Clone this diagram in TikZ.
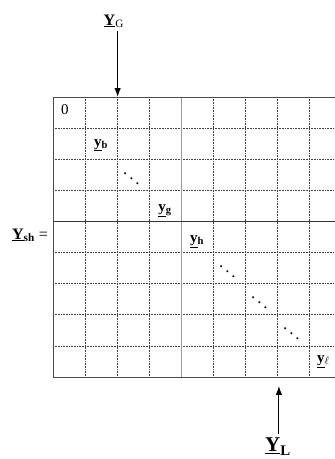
\documentclass[tikz,border=0pt]{standalone}
\usepackage{fontspec}
\setmainfont{Liberation Serif}
\usetikzlibrary{arrows.meta}

\begin{document}
\begin{tikzpicture}[>={Latex[length=9pt,width=6.5pt]}, x=32pt, y=31.1pt,
    cellgrid/.style={densely dotted, line width=0.6pt, black!75},
    border/.style={line width=0.8pt, black!70},
    cell/.style={font=\fontsize{15}{17}\selectfont, inner sep=0pt},
    dots/.style={scale=1.7, inner sep=0pt}]
  \useasboundingbox (-53pt,97pt) rectangle (282pt,-362pt);

  % dotted cell lines
  \foreach \i in {1,2,3,5,6,7,8} {
    \draw[cellgrid] (\i,0) -- (\i,-9);
    \draw[cellgrid] (0,-\i) -- (8.8125,-\i);
  }
  % block borders
  \draw[line width=0.9pt, black!40] (4,0) -- (4,-9);
  \draw[line width=1pt, black!80] (0,-4) -- (8.8125,-4);
  \draw[border] (8.8125,0) -- (0,0) -- (0,-9) -- (8.8125,-9);

  \coordinate (gtop) at (2.02,0);
  \coordinate (gbot) at (7.06,-9);

  % diagonal entries
  \node[cell] (zero) at (0.375,-0.42) {0};
  \node[cell] (yb) at (1.5,-1.55) {\underline{\textbf{y}}\textsubscript{\textbf{b}}};
  \node[dots] (dd1) at (2.45,-2.45) {$\ddots$};
  \node[cell] (yg) at (3.5,-3.65) {\underline{\textbf{y}}\textsubscript{\textbf{g}}};
  \node[cell] (yh) at (4.5,-4.65) {\underline{\textbf{y}}\textsubscript{\textbf{h}}};
  \node[dots] (dd2) at (5.45,-5.45) {$\ddots$};
  \node[dots] (dd3) at (6.45,-6.45) {$\ddots$};
  \node[dots] (dd4) at (7.45,-7.45) {$\ddots$};
  \node[cell] (yl) at (8.45,-8.5) {\underline{\textbf{y}}\textsubscript{$\ell$}};

  % matrix name and ports
  \node[anchor=east, inner sep=1pt, font=\fontsize{16}{18}\selectfont] (Ysh) at ([xshift=-4pt]0,-4.45)
    {\underline{\textbf{Y}}\textsubscript{\textbf{sh}} =};
  \node[font=\fontsize{16}{18}\selectfont] (YG) at (1.9,2.44)
    {\underline{\textbf{Y}}\textsubscript{G}};
  \node[anchor=north, inner sep=2pt, font=\fontsize{21}{24}\selectfont] (YL) at (7.03,-10.9)
    {\underline{\textbf{Y}}\textsubscript{\textbf{L}}};

  \draw[->, line width=1.1pt] (YG.south -| gtop) -- (gtop);
  \draw[->, line width=1.1pt] ([yshift=2pt]YL.north -| gbot) -- ([yshift=-9pt]gbot);
\end{tikzpicture}
\end{document}
